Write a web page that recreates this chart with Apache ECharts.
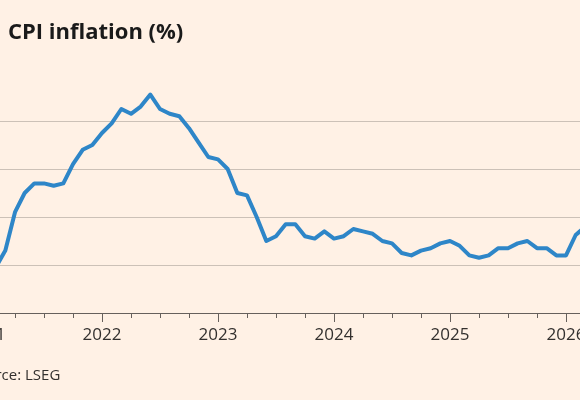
<!DOCTYPE html>
<html>
<head>
<meta charset="utf-8">
<script src="https://cdn.jsdelivr.net/npm/echarts@6/dist/echarts.min.js"></script>
<style>
  html, body { margin: 0; padding: 0; background: #fff1e5; }
  #chart { width: 580px; height: 400px; }
</style>
</head>
<body>
<div id="chart"></div>
<script>
// monthly CPI inflation, starting Feb 2021
const startYear = 2021;
const startMonth = 1; // Feb (0-based)
const cpiValues = [
  1.9, 2.6, 4.2, 5.0, 5.4, 5.4, 5.3, 5.4, 6.2, 6.8, 7.0,
  7.5, 7.9, 8.5, 8.3, 8.6, 9.1, 8.5, 8.3, 8.2, 7.7, 7.1, 6.5,
  6.4, 6.0, 5.0, 4.9, 4.0, 3.0, 3.2, 3.7, 3.7, 3.2, 3.1, 3.4,
  3.1, 3.2, 3.5, 3.4, 3.3, 3.0, 2.9, 2.5, 2.4, 2.6, 2.7, 2.9,
  3.0, 2.8, 2.4, 2.3, 2.4, 2.7, 2.7, 2.9, 3.0, 2.7, 2.7, 2.4,
  2.4, 3.25, 3.6
];

const chart = echarts.init(document.getElementById("chart"));

const seriesData = cpiValues.map((v, i) => [startYear + (startMonth + i) / 12, v]);

const option = {
  backgroundColor: "#fff1e5",
  animation: false,
  title: {
    text: "CPI inflation (%)",
    left: 3,
    top: 17,
    textStyle: { fontFamily: "Open Sans", fontWeight: "bold", fontSize: 22, color: "#1a1a1a" },
  },
  graphic: [
    {
      type: "text",
      left: -31,
      top: 368,
      style: { text: "Source: LSEG", font: "15px 'Open Sans'", fill: "#33302e" },
    },
  ],
  grid: { left: -14, right: -15, top: 82.6, bottom: 87, containLabel: false, outerBoundsMode: "none" },
  xAxis: {
    type: "value",
    min: 2021,
    max: 2026.25,
    interval: 1,
    axisLine: { show: true, lineStyle: { color: "#66605c", width: 1 } },
    axisTick: { show: true, length: 9, lineStyle: { color: "#66605c" } },
    minorTick: { show: true, splitNumber: 4, length: 5, lineStyle: { color: "#66605c" } },
    axisLabel: {
      fontFamily: "Open Sans",
      fontSize: 17,
      color: "#33302e",
      margin: 14,
      showMinLabel: true,
      showMaxLabel: true,
      hideOverlap: false,
      formatter: (v) => (Number.isInteger(v) ? String(v) : ""),
    },
    splitLine: { show: false },
  },
  yAxis: {
    type: "value",
    min: 0,
    max: 9.6,
    interval: 2,
    axisLabel: { show: false },
    axisLine: { show: false },
    axisTick: { show: false },
    splitLine: {
      show: true,
      lineStyle: { color: "#ccc1b7", width: 1 },
      showMaxLine: false,
    },
  },
  series: [
    {
      type: "line",
      data: seriesData,
      symbol: "none",
      clip: true,
      lineStyle: { color: "#2e86c8", width: 4, join: "round" },
    },
  ],
};

chart.setOption(option);
</script>
</body>
</html>
